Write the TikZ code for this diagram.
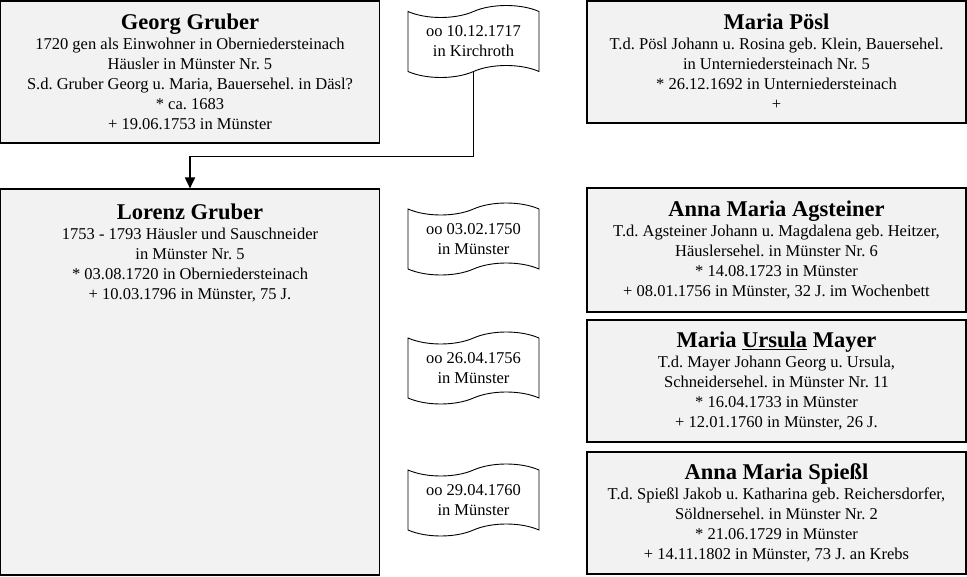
\documentclass[tikz,border=0pt]{standalone}
\usepackage{fontspec}
\setmainfont{Liberation Serif}
\usetikzlibrary{arrows.meta,positioning,shapes.symbols}
\definecolor{boxgray}{HTML}{F2F2F2}
\frenchspacing
\newcommand{\persname}[1]{{\fontsize{22.5}{24}\selectfont\bfseries #1}}

\begin{document}
\begin{tikzpicture}[x=1pt, y=-1pt,
    details/.style={align=center, inner sep=0pt, font=\fontsize{16.5}{20}\selectfont},
    person/.style={details, draw, fill=boxgray, line width=1.1pt, minimum width=379pt},
    marriage/.style={details, tape, draw, fill=white, line width=0.9pt, tape bend top=in and out,
      tape bend bottom=in and out, tape bend height=12pt, minimum width=131pt, minimum height=72pt},
    descent/.style={line width=1.8pt, -{Triangle[width=10pt,length=11pt]}}]
  \useasboundingbox (0,0) rectangle (967,577);

  \node[person, minimum height=142pt] (georg) at (190,72) {\persname{Georg Gruber}\\
    1720 gen als Einwohner in Oberniedersteinach\\ Häusler in Münster Nr. 5\\
    S.d. Gruber Georg u. Maria, Bauersehel. in Däsl?\\ * ca. 1683\\ + 19.06.1753 in Münster};
  \node[person, minimum height=122pt] (poesl) at (776.5,62) {\persname{Maria Pösl}\\
    T.d. Pösl Johann u. Rosina geb. Klein, Bauersehel.\\ in Unterniedersteinach Nr. 5\\
    * 26.12.1692 in Unterniedersteinach\\ +};
  \node[person, minimum height=386pt] (lorenz) at (190,382) {};
  \node[details, below=15pt of lorenz.north] (lorenztext) {\persname{Lorenz Gruber}\\
    1753 - 1793 Häusler und Sauschneider\\ in Münster Nr. 5\\
    * 03.08.1720 in Oberniedersteinach\\ + 10.03.1796 in Münster, 75 J.};
  \node[person, minimum height=124pt] (agsteiner) at (776.5,250) {\persname{Anna Maria Agsteiner}\\
    T.d. Agsteiner Johann u. Magdalena geb. Heitzer,\\ Häuslersehel. in Münster Nr. 6\\
    * 14.08.1723 in Münster\\ + 08.01.1756 in Münster, 32 J. im Wochenbett};
  \node[person, minimum height=122pt] (mayer) at (776.5,381) {\persname{Maria \underline{Ursula} Mayer}\\
    T.d. Mayer Johann Georg u. Ursula,\\ Schneidersehel. in Münster Nr. 11\\
    * 16.04.1733 in Münster\\ + 12.01.1760 in Münster, 26 J.};
  \node[person, minimum height=122pt] (spiessl) at (776.5,513) {\persname{Anna Maria Spießl}\\
    T.d. Spießl Jakob u. Katharina geb. Reichersdorfer,\\ Söldnersehel. in Münster Nr. 2\\
    * 21.06.1729 in Münster\\ + 14.11.1802 in Münster, 73 J. an Krebs};

  \node[marriage] (wed1) at (473.5,41.5) {oo 10.12.1717\\ in Kirchroth};
  \node[marriage] (wed2) at (473.5,239) {oo 03.02.1750\\ in Münster};
  \node[marriage] (wed3) at (473.5,368) {oo 26.04.1756\\ in Münster};
  \node[marriage] (wed4) at (473.5,500) {oo 29.04.1760\\ in Münster};

  \draw[descent] (wed1.south) |- ([yshift=32pt]lorenz.north) -- (lorenz.north);
\end{tikzpicture}
\end{document}
